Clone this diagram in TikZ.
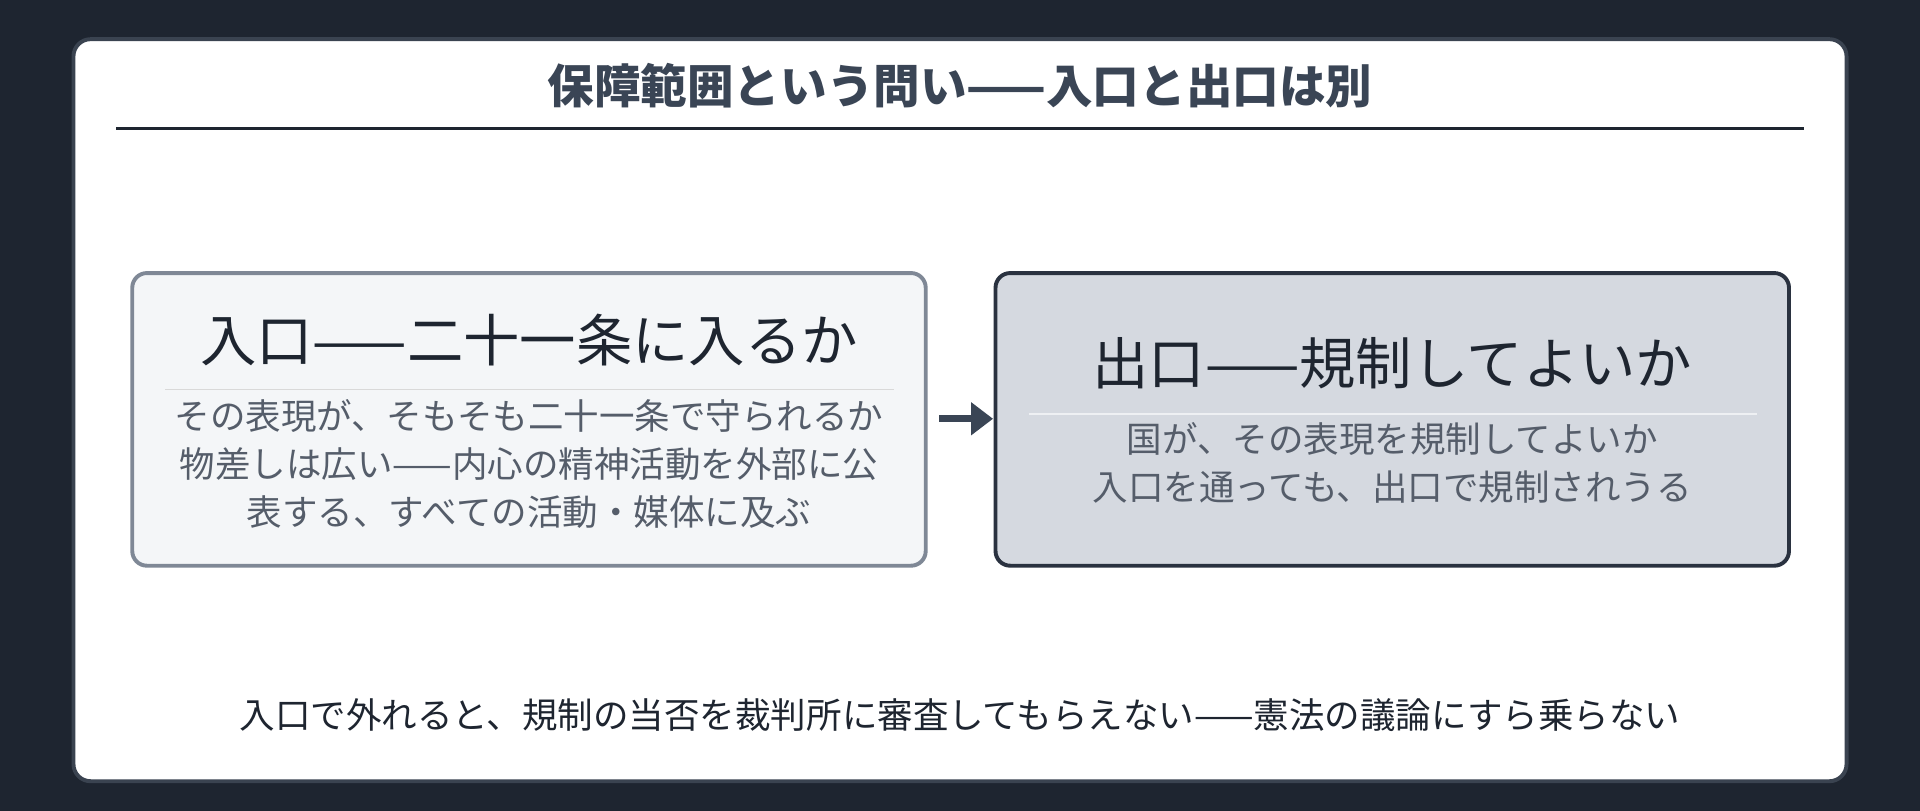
\documentclass[tikz,border=0pt]{standalone}
\usepackage{fontspec}
\setmainfont{Noto Sans CJK JP}
\usetikzlibrary{arrows.meta}
\definecolor{bg}{HTML}{1E2530}
\definecolor{cardb}{HTML}{3A4350}
\definecolor{titlec}{HTML}{3A4555}
\definecolor{lfill}{HTML}{F4F6F8}
\definecolor{lbord}{HTML}{7F8896}
\definecolor{rfill}{HTML}{D5D9E0}
\definecolor{rbord}{HTML}{2A3240}
\definecolor{bodyc}{HTML}{555D6A}
\definecolor{headc}{HTML}{1E2530}
\begin{document}
\begin{tikzpicture}[x=0.5pt,y=-0.5pt,
  box/.style={rounded corners=6pt,line width=1.6pt},
  head/.style={font=\fontsize{23}{28}\selectfont,text=headc},
  body/.style={font=\fontsize{14.5}{19.5}\selectfont,text=bodyc,align=center},
  sep/.style={line width=0.6pt}]
\fill[bg] (0,0) rectangle (1568,662);
\useasboundingbox (0,0) rectangle (1568,662);
\draw[fill=white,draw=cardb,line width=1.6pt,rounded corners=7pt] (60,32) rectangle (1508,638);
\node[font=\fontsize{19}{23}\selectfont\bfseries,text=titlec] (title) at (784,70) {保障範囲という問い——入口と出口は別};
\draw[headc,line width=1pt] (95,105) -- (1473,105);
\draw[box,fill=lfill,draw=lbord] (108,223) rectangle (756,462);
\node[head] (lh) at (432,278) {入口——二十一条に入るか};
\draw[sep,draw=black!15] (135,318) -- (730,318);
\node[body] (lb) at (432,379) {その表現が、そもそも二十一条で守られるか\\物差しは広い——内心の精神活動を外部に公\\表する、すべての活動・媒体に及ぶ};
\draw[box,fill=rfill,draw=rbord] (813,223) rectangle (1461,462);
\node[head] (rh) at (1137,297) {出口——規制してよいか};
\draw[sep,draw=white!60!rfill] (840,338) -- (1435,338);
\node[body] (rb) at (1137,378) {国が、その表現を規制してよいか\\入口を通っても、出口で規制されうる};
\coordinate (a1) at (767,342);
\coordinate (a2) at (811,342);
\draw[titlec,line width=3pt,-{Triangle[length=9pt,width=13pt]}] (a1) -- (a2);
\node[font=\fontsize{14.5}{19}\selectfont,text=headc] (foot) at (784,584) {入口で外れると、規制の当否を裁判所に審査してもらえない——憲法の議論にすら乗らない};
\end{tikzpicture}
\end{document}
